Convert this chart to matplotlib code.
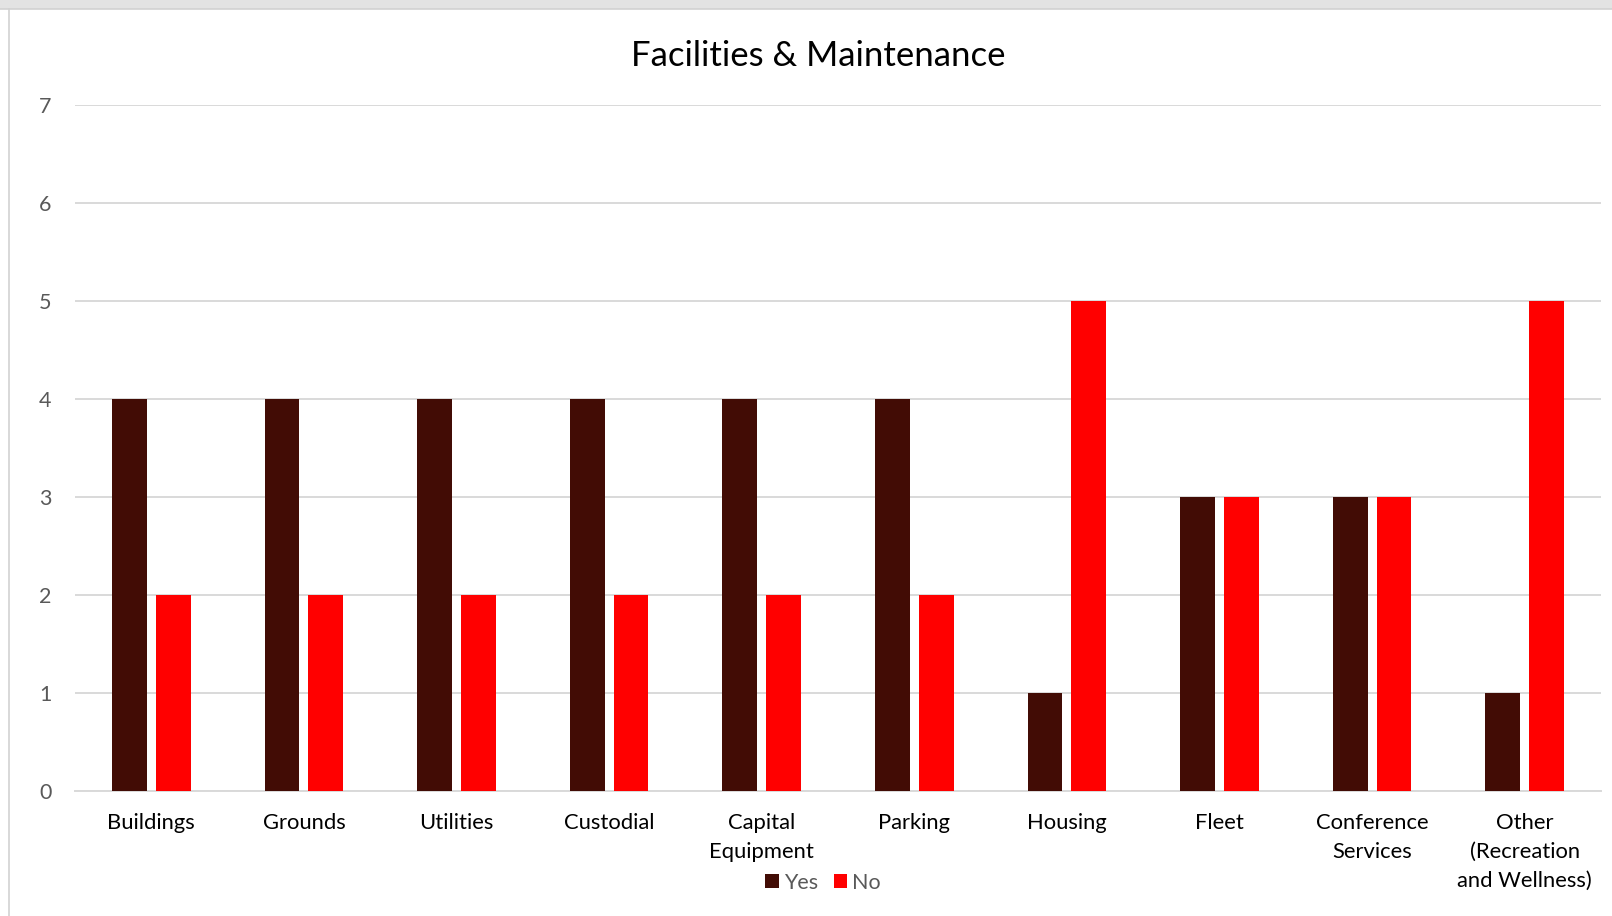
import matplotlib
matplotlib.use("Agg")
import matplotlib.pyplot as plt
import numpy as np
from matplotlib.patches import Rectangle, Patch
from matplotlib.lines import Line2D

categories = ["Buildings", "Grounds", "Utilities", "Custodial", "Capital\nEquipment",
              "Parking", "Housing", "Fleet", "Conference\nServices",
              "Other\n(Recreation\nand Wellness)"]
yes_vals = [4, 4, 4, 4, 4, 4, 1, 3, 3, 1]
no_vals = [2, 2, 2, 2, 2, 2, 5, 3, 3, 5]
series_names = ["Yes", "No"]
title = "Facilities & Maintenance"

YES_C = "#420C05"
NO_C = "#FF0000"
GRID_C = "#D9D9D9"
TXT_C = "#595959"

plt.rcParams['font.family'] = ['Lato', 'DejaVu Sans']

W, H = 1612, 916
fig = plt.figure(figsize=(W / 100, H / 100), dpi=100)
fig.patch.set_facecolor("white")

# screenshot frame
fig.add_artist(Rectangle((0, 1 - 9 / H), 1, 9 / H, transform=fig.transFigure,
                         facecolor="#E3E3E3", edgecolor="none", zorder=0))
fig.add_artist(Line2D([0, 1], [1 - 9 / H, 1 - 9 / H], transform=fig.transFigure,
                      color="#D2D2D2", lw=1.2))
fig.add_artist(Line2D([9 / W, 9 / W], [0, 1 - 9 / H], transform=fig.transFigure,
                      color="#D2D2D2", lw=1.2))

left, right = 75 / W, 1601 / W
bottom, top = 1 - 790.6 / H, 1 - 105 / H
ax = fig.add_axes([left, bottom, right - left, top - bottom])

x = np.arange(len(categories))
bw = 0.229
off = 0.1435
ax.bar(x - off, yes_vals, width=bw, color=YES_C, label=series_names[0], zorder=3)
ax.bar(x + off, no_vals, width=bw, color=NO_C, label=series_names[1], zorder=3)

ax.set_xlim(-0.5, len(categories) - 0.5)
ax.set_ylim(0, 7)
ax.set_yticks(range(0, 8))
ax.yaxis.grid(True, color=GRID_C, lw=1.4, zorder=0)
ax.set_axisbelow(True)
for s in ["top", "right", "left"]:
    ax.spines[s].set_visible(False)
ax.spines["bottom"].set_color(GRID_C)
ax.spines["bottom"].set_linewidth(1.4)
ax.tick_params(axis="y", length=0, pad=17, labelsize=15.5, labelcolor=TXT_C)
ax.tick_params(axis="x", length=0, pad=16, labelsize=15.8, labelcolor="black")
ax.set_xticks(x)
ax.set_xticklabels(categories, linespacing=1.56)

fig.text(818 / W, 1 - 56 / H, title, ha="center", va="center", fontsize=25, color="black")

handles = [Patch(facecolor=YES_C, edgecolor="none"), Patch(facecolor=NO_C, edgecolor="none")]
leg = fig.legend(handles, series_names, loc="center", bbox_to_anchor=(823 / W, 1 - 883 / H),
                 ncol=2, frameon=False, fontsize=15.5, handlelength=0.62, handleheight=0.62,
                 handletextpad=0.24, columnspacing=0.72, labelcolor=TXT_C, borderpad=0)

fig.savefig("out.png", dpi=100, facecolor="white")
